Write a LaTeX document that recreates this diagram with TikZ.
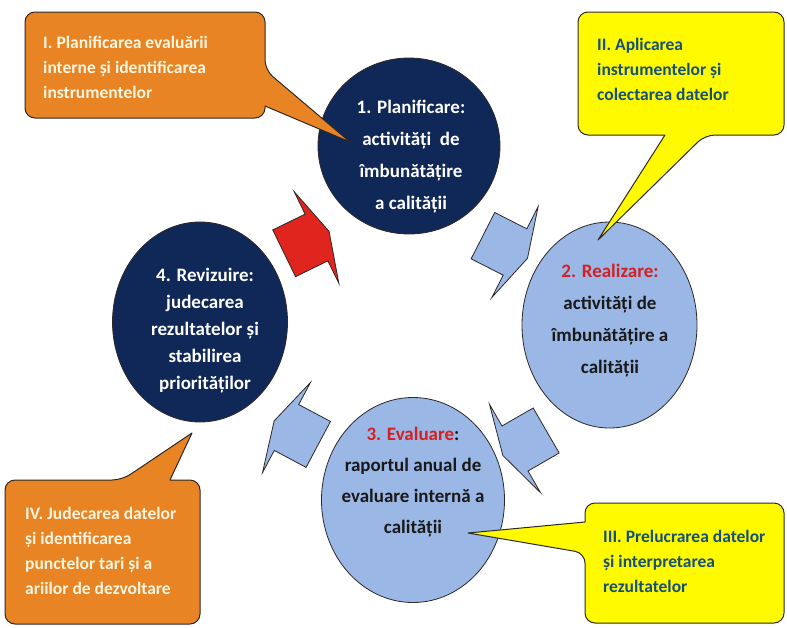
\documentclass[tikz,border=0pt]{standalone}
\usepackage{fontspec}
\setmainfont{Carlito}
\usetikzlibrary{shapes.geometric}
\definecolor{navyC}{RGB}{16,40,88}
\definecolor{lblueC}{RGB}{155,183,230}
\definecolor{orangeC}{RGB}{232,132,35}
\definecolor{yellowC}{RGB}{255,250,0}
\definecolor{redA}{RGB}{224,36,30}
\definecolor{redT}{RGB}{212,32,32}
\definecolor{tealT}{RGB}{22,80,120}
\definecolor{creamT}{RGB}{255,246,225}
\definecolor{edgeC}{RGB}{45,40,40}
\tikzset{
  bubble/.style={ellipse, draw=edgeC, line width=0.8pt, inner sep=0pt},
  callout/.style={draw=edgeC, line width=1pt, line join=round},
  arrowshape/.style={draw=edgeC, line width=0.8pt, line join=miter},
  ctext/.style={font=\bfseries\fontsize{19}{32}\selectfont, align=center, inner sep=0pt},
  btext/.style={font=\bfseries\fontsize{17.5}{25}\selectfont, align=left, inner sep=0pt, anchor=west}
}
\newcommand\cyclearrow[3]{%
  \draw[arrowshape, fill=#3, shift={#1}, rotate=#2]
    (-36,-26) -- (0,-26) -- (0,-51) -- (14,0) -- (0,51) -- (0,26) -- (-36,26) -- cycle;}
\begin{document}
\begin{tikzpicture}[x=1pt,y=-1pt]
\useasboundingbox (0,0) rectangle (787,627);
% circles
\node[bubble, fill=navyC, minimum width=182pt, minimum height=176pt] (c1) at (409,146) {};
\node[bubble, fill=lblueC, minimum width=175pt, minimum height=206pt] (c2) at (609.5,325) {};
\node[bubble, fill=lblueC, minimum width=183pt, minimum height=205pt] (c3) at (413,500) {};
\node[bubble, fill=navyC, minimum width=175pt, minimum height=200pt] (c4) at (200,322) {};
% cycle arrows
\cyclearrow{(316.5,237.5)}{26}{redA}
\cyclearrow{(515,252)}{-27}{lblueC}
\cyclearrow{(515,448.5)}{210}{lblueC}
\cyclearrow{(286.5,427.5)}{152}{lblueC}
% callouts
\draw[callout, fill=orangeC] (25,60) [rounded corners=10pt] -- (25,12) -- (265,12) -- (265,70) [sharp corners] -- (350,142) -- (265,106) [rounded corners=10pt] -- (265,118) -- (25,118) -- cycle;
\draw[callout, fill=yellowC] (578,70) [rounded corners=10pt] -- (578,12) -- (784,12) -- (784,135) -- (705,135) [sharp corners] -- (598,240) -- (665,135) [rounded corners=10pt] -- (578,135) -- cycle;
\draw[callout, fill=yellowC] (680,503) [rounded corners=10pt] -- (784,503) -- (784,623) -- (585,623) -- (585,553) [sharp corners] -- (468,533) -- (585,522) [rounded corners=10pt] -- (585,503) -- cycle;
\draw[callout, fill=orangeC] (5,550) [rounded corners=10pt] -- (5,480) -- (122,480) [sharp corners] -- (192,433) -- (170,480) [rounded corners=10pt] -- (200,480) -- (200,624) -- (5,624) -- cycle;
% circle texts
\node[ctext, text=white] (t1) at (411,157) {1. Planificare:\\activități\ \ de\\îmbunătățire\\a calității};
\node[ctext, text=black!90] (t2) at (610,321) {\textcolor{redT}{2. Realizare:}\\activități de\\îmbunătățire a\\calității};
\node[ctext, text=black!90, font=\bfseries\fontsize{19}{31}\selectfont] (t3) at (413,482) {\textcolor{redT}{3. Evaluare}:\\raportul anual de\\evaluare internă a\\calității};
\node[ctext, text=white, font=\bfseries\fontsize{19}{27}\selectfont] (t4) at (205,331) {4. Revizuire:\\judecarea\\rezultatelor și\\stabilirea\\priorităților};
% callout texts
\node[btext, text=creamT] (k1) at (43,67) {I. Planificarea evaluării\\interne și identificarea\\instrumentelor};
\node[btext, text=tealT] (k2) at (597,69) {II. Aplicarea\\instrumentelor și\\colectarea datelor};
\node[btext, text=tealT] (k3) at (603,561) {III. Prelucrarea datelor\\și interpretarea\\rezultatelor};
\node[btext, text=creamT] (k4) at (25,551) {IV. Judecarea datelor\\și identificarea\\punctelor tari și a\\ariilor de dezvoltare};
\end{tikzpicture}
\end{document}
